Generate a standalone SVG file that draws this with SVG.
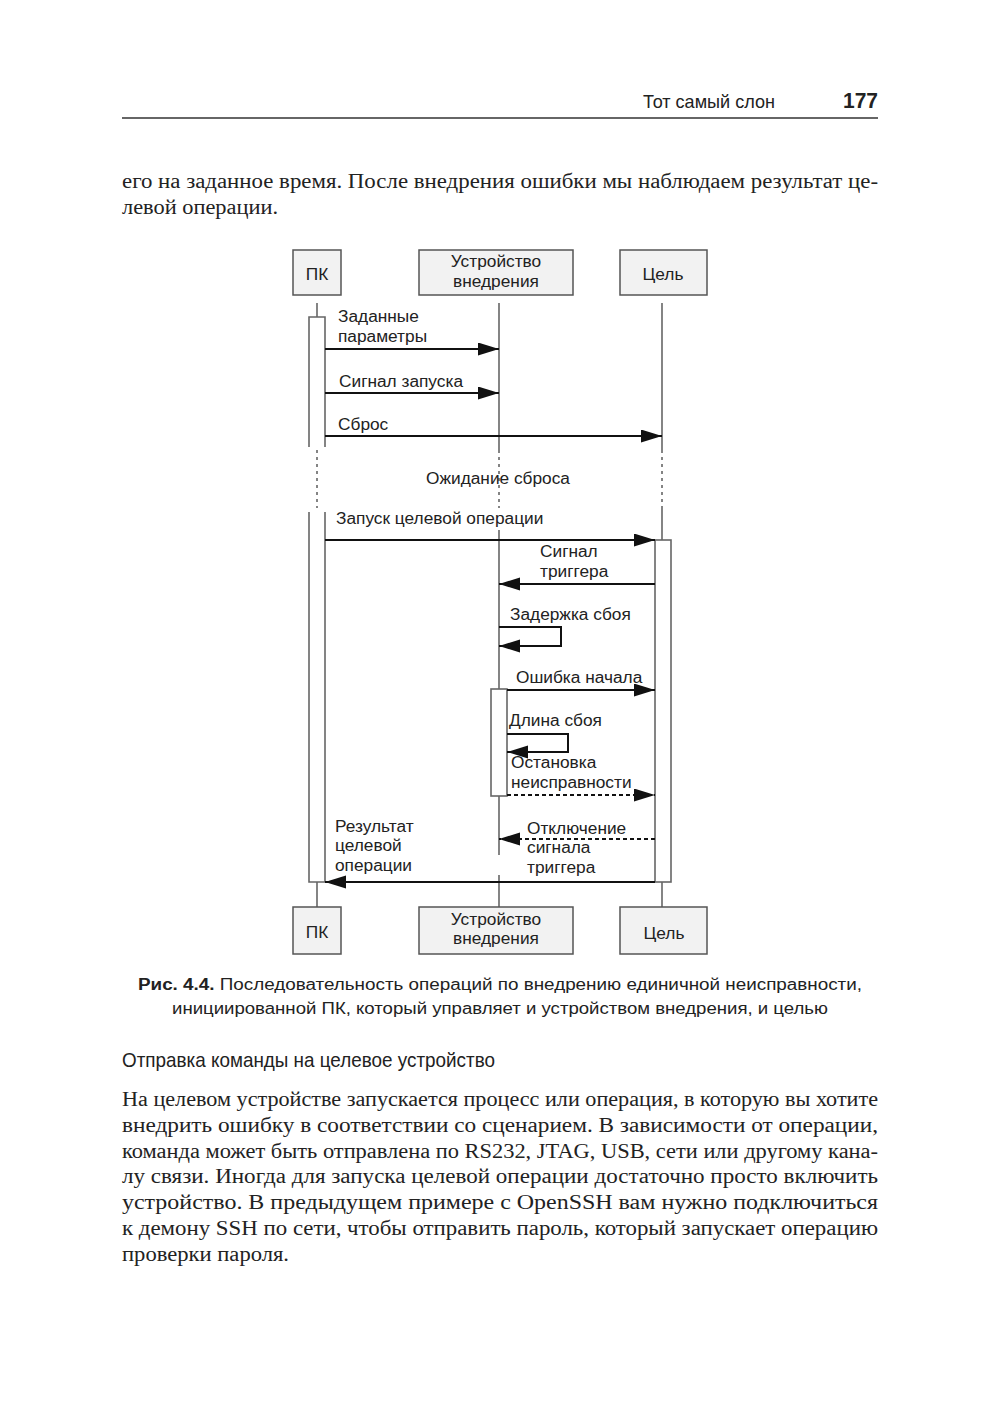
<svg xmlns="http://www.w3.org/2000/svg" width="1000" height="1413" viewBox="0 0 1000 1413">
<style>
.body{font-family:"Liberation Serif","DejaVu Serif",serif;font-size:20px;fill:#222}
.head{font-family:"Liberation Sans","DejaVu Sans",sans-serif;fill:#222}
.cap{font-family:"Liberation Sans","DejaVu Sans",sans-serif;font-size:16px;fill:#222}
.lbl{font-family:"Liberation Sans","DejaVu Sans",sans-serif;font-size:17.3px;fill:#222}
.box{fill:#f2f2f2;stroke:#555;stroke-width:1.5}
.life{stroke:#666;stroke-width:1.6;fill:none}
.dot{stroke:#666;stroke-width:1.6;fill:none;stroke-dasharray:3 4}
.bar{fill:#fff;stroke:#666;stroke-width:1.6}
.msg{stroke:#111;stroke-width:2;fill:none;marker-end:url(#ah)}
.dmsg{stroke:#111;stroke-width:2;fill:none;stroke-dasharray:4 3;marker-end:url(#ah)}
</style>
<defs>
<marker id="ah" markerUnits="userSpaceOnUse" markerWidth="22" markerHeight="14" refX="21" refY="6.5" orient="auto">
<path d="M0,0 L21,6.5 L0,13 Z" fill="#111"/>
</marker>
</defs>
<rect width="1000" height="1413" fill="#fff"/>

<!-- page header -->
<text class="head" x="643" y="108" font-size="19" textLength="132" lengthAdjust="spacingAndGlyphs">Тот самый слон</text>
<text class="head" x="843" y="108" font-size="22" font-weight="bold" textLength="35" lengthAdjust="spacingAndGlyphs">177</text>
<line x1="122" y1="118" x2="878" y2="118" stroke="#333" stroke-width="1.5"/>

<text class="body" x="122" y="188" textLength="756" lengthAdjust="spacingAndGlyphs">его на заданное время. После внедрения ошибки мы наблюдаем результат це-</text>
<text class="body" x="122" y="214" textLength="156" lengthAdjust="spacingAndGlyphs">левой операции.</text>

<!-- lifelines -->
<g id="lifelines">
<line class="life" x1="317" y1="303" x2="317" y2="317"/>
<line class="dot" x1="317" y1="450" x2="317" y2="508"/>
<line class="life" x1="317" y1="882" x2="317" y2="907"/>
<line class="life" x1="499" y1="303" x2="499" y2="450"/>
<line class="dot" x1="499" y1="450" x2="499" y2="508"/>
<line class="life" x1="499" y1="530" x2="499" y2="855"/>
<line class="life" x1="499" y1="875" x2="499" y2="907"/>
<line class="life" x1="662" y1="303" x2="662" y2="450"/>
<line class="dot" x1="662" y1="450" x2="662" y2="508"/>
<line class="life" x1="662" y1="508" x2="662" y2="540"/>
<line class="life" x1="662" y1="882" x2="662" y2="907"/>
</g>

<!-- activation bars -->
<g id="activations">
<path class="life" d="M309,447 V317 H325 V447"/>
<path class="bar" d="M309,512 V882 H325 V512"/>
<rect class="bar" x="655" y="540" width="16" height="342"/>
<rect class="bar" x="491" y="689" width="16" height="107"/>
</g>

<!-- nodes -->
<g id="node-pk-top"><rect class="box" x="293" y="250" width="48" height="45"/><text class="lbl" x="317" y="280" text-anchor="middle">ПК</text></g>
<g id="node-dev-top"><rect class="box" x="419" y="250" width="154" height="45"/><text class="lbl" x="496" y="267" text-anchor="middle">Устройство</text><text class="lbl" x="496" y="287" text-anchor="middle">внедрения</text></g>
<g id="node-target-top"><rect class="box" x="620" y="250" width="87" height="45"/><text class="lbl" x="663" y="280" text-anchor="middle">Цель</text></g>
<g id="node-pk-bottom"><rect class="box" x="293" y="907" width="48" height="47"/><text class="lbl" x="317" y="938" text-anchor="middle">ПК</text></g>
<g id="node-dev-bottom"><rect class="box" x="419" y="907" width="154" height="47"/><text class="lbl" x="496" y="925" text-anchor="middle">Устройство</text><text class="lbl" x="496" y="944" text-anchor="middle">внедрения</text></g>
<g id="node-target-bottom"><rect class="box" x="620" y="907" width="87" height="47"/><text class="lbl" x="664" y="939" text-anchor="middle">Цель</text></g>

<!-- connectors -->
<g id="connectors">
<line class="msg" x1="325" y1="349" x2="499" y2="349"/>
<line class="msg" x1="325" y1="393" x2="499" y2="393"/>
<line class="msg" x1="325" y1="436" x2="662" y2="436"/>
<line class="msg" x1="325" y1="540" x2="655" y2="540"/>
<line class="msg" x1="655" y1="584" x2="499" y2="584"/>
<path class="msg" d="M499,627 H561 V646 H499"/>
<line class="msg" x1="507" y1="690" x2="655" y2="690"/>
<path class="msg" d="M507,734 H568 V752 H507"/>
<line class="dmsg" x1="507" y1="795" x2="655" y2="795"/>
<line class="dmsg" x1="655" y1="839" x2="499" y2="839"/>
<line class="msg" x1="655" y1="882" x2="325" y2="882"/>
</g>

<!-- message labels -->
<g id="labels">
<text class="lbl" x="338" y="322">Заданные</text>
<text class="lbl" x="338" y="342">параметры</text>
<text class="lbl" x="339" y="387">Сигнал запуска</text>
<text class="lbl" x="338" y="430">Сброс</text>
<text class="lbl" x="498" y="484" text-anchor="middle">Ожидание сброса</text>
<text class="lbl" x="336" y="524">Запуск целевой операции</text>
<text class="lbl" x="540" y="557">Сигнал</text>
<text class="lbl" x="540" y="577">триггера</text>
<text class="lbl" x="510" y="620">Задержка сбоя</text>
<text class="lbl" x="516" y="683">Ошибка начала</text>
<text class="lbl" x="509" y="726">Длина сбоя</text>
<text class="lbl" x="511" y="768">Остановка</text>
<text class="lbl" x="511" y="788">неисправности</text>
<text class="lbl" x="527" y="834">Отключение</text>
<text class="lbl" x="527" y="853">сигнала</text>
<text class="lbl" x="527" y="873">триггера</text>
<text class="lbl" x="335" y="832">Результат</text>
<text class="lbl" x="335" y="851">целевой</text>
<text class="lbl" x="335" y="871">операции</text>
</g>

<!-- caption -->
<text class="cap" x="138" y="990" textLength="724" lengthAdjust="spacingAndGlyphs"><tspan font-weight="bold">Рис. 4.4.</tspan> Последовательность операций по внедрению единичной неисправности,</text>
<text class="cap" x="172" y="1014" textLength="656" lengthAdjust="spacingAndGlyphs">инициированной ПК, который управляет и устройством внедрения, и целью</text>

<text class="head" x="122" y="1067" font-size="21" textLength="373" lengthAdjust="spacingAndGlyphs">Отправка команды на целевое устройство</text>

<text class="body" x="122" y="1106" textLength="756" lengthAdjust="spacingAndGlyphs">На целевом устройстве запускается процесс или операция, в которую вы хотите</text>
<text class="body" x="122" y="1132" textLength="756" lengthAdjust="spacingAndGlyphs">внедрить ошибку в соответствии со сценарием. В зависимости от операции,</text>
<text class="body" x="122" y="1158" textLength="756" lengthAdjust="spacingAndGlyphs">команда может быть отправлена по RS232, JTAG, USB, сети или другому кана-</text>
<text class="body" x="122" y="1183" textLength="756" lengthAdjust="spacingAndGlyphs">лу связи. Иногда для запуска целевой операции достаточно просто включить</text>
<text class="body" x="122" y="1209" textLength="756" lengthAdjust="spacingAndGlyphs">устройство. В предыдущем примере с OpenSSH вам нужно подключиться</text>
<text class="body" x="122" y="1235" textLength="756" lengthAdjust="spacingAndGlyphs">к демону SSH по сети, чтобы отправить пароль, который запускает операцию</text>
<text class="body" x="122" y="1261" textLength="167" lengthAdjust="spacingAndGlyphs">проверки пароля.</text>
</svg>
